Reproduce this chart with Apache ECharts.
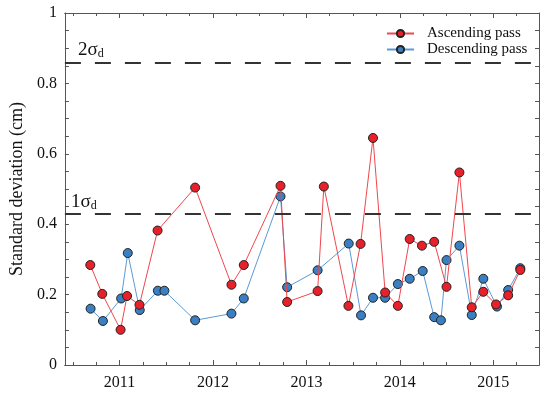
<!DOCTYPE html>
<html>
<head>
<meta charset="utf-8">
<script src="https://cdn.jsdelivr.net/npm/echarts@6/dist/echarts.min.js"></script>
<style>html,body{margin:0;padding:0;background:#fff}#c{width:550px;height:394px}</style>
</head>
<body>
<div id="c"></div>
<script>
// Ascending pass
var ascDates = [2010.687, 2010.815, 2011.011, 2011.08, 2011.213, 2011.407, 2011.809, 2012.198, 2012.33, 2012.723, 2012.794,
  2013.12, 2013.187, 2013.45, 2013.58, 2013.713, 2013.843, 2013.979, 2014.106, 2014.237, 2014.368, 2014.5, 2014.638, 2014.77,
  2014.894, 2015.03, 2015.16, 2015.29];
var ascValues = [0.284, 0.202, 0.100, 0.196, 0.171, 0.382, 0.504, 0.228, 0.284, 0.509, 0.179,
  0.210, 0.507, 0.168, 0.344, 0.645, 0.206, 0.168, 0.358, 0.339, 0.350, 0.222, 0.547, 0.164,
  0.208, 0.172, 0.198, 0.270];
// Descending pass
var descDates = [2010.69, 2010.822, 2011.017, 2011.088, 2011.216, 2011.41, 2011.48, 2011.809, 2012.198, 2012.33, 2012.723, 2012.794,
  2013.12, 2013.453, 2013.585, 2013.713, 2013.843, 2013.979, 2014.106, 2014.245, 2014.368, 2014.44, 2014.5, 2014.638, 2014.77,
  2014.894, 2015.04, 2015.16, 2015.29];
var descValues = [0.160, 0.125, 0.189, 0.318, 0.156, 0.211, 0.211, 0.127, 0.146, 0.189, 0.479, 0.221,
  0.269, 0.345, 0.141, 0.191, 0.191, 0.230, 0.245, 0.267, 0.136, 0.127, 0.298, 0.339, 0.142,
  0.245, 0.166, 0.213, 0.275];
// Reference levels
var sigma1 = 0.43, sigma2 = 0.86;
var yearLabels = [2011, 2012, 2013, 2014, 2015];
var quarterTicks = [];
for (var q = 2010.5; q <= 2015.26; q += 0.25) quarterTicks.push(+q.toFixed(2));

function pairs(xs, ys) { return xs.map(function (x, i) { return [x, ys[i]]; }); }

var FONT = "'Liberation Serif', 'Times New Roman', serif";
var AX = '#555';
var XMIN = 2010.415, XMAX = 2015.49;

var chart = echarts.init(document.getElementById('c'), null, {renderer: 'canvas'});
function xAx(pos, showLabels, ticks, len) {
  return {
    type: 'value', position: pos, min: XMIN, max: XMAX,
    axisLine: {show: true, onZero: false, lineStyle: {color: AX, width: 1}},
    axisTick: {show: true, inside: true, length: len, customValues: ticks, lineStyle: {color: AX}},
    axisLabel: showLabels ? {show: true, customValues: yearLabels, color: '#111', fontFamily: FONT, fontSize: 16, margin: 10,
      formatter: function (v) { return String(Math.round(v)); }} : {show: false},
    splitLine: {show: false}
  };
}
var option = {
  animation: false,
  backgroundColor: '#fff',
  grid: {left: 62, right: 11, top: 13, bottom: 29},
  legend: {
    orient: 'vertical', left: 381, top: 21, itemWidth: 27, itemHeight: 9, itemGap: 1,
    data: ['Ascending pass', 'Descending pass'],
    textStyle: {fontFamily: FONT, fontSize: 15, color: '#111', padding: [0, 0, 0, 8]}
  },
  xAxis: [
    xAx('bottom', true, quarterTicks, 3),
    xAx('bottom', false, yearLabels, 5),
    xAx('top', false, quarterTicks, 3),
    xAx('top', false, yearLabels, 5)
  ],
  yAxis: [{
    type: 'value', min: 0, max: 1, interval: 0.05, position: 'left',
    name: 'Standard deviation (cm)', nameLocation: 'middle', nameGap: 34,
    nameTextStyle: {fontFamily: FONT, fontSize: 18, color: '#111'},
    axisLine: {show: true, lineStyle: {color: AX}},
    axisTick: {show: true, inside: true, length: 4, lineStyle: {color: AX}},
    axisLabel: {color: '#111', fontFamily: FONT, fontSize: 16, margin: 8,
      formatter: function (v) { var k = v * 5; return Math.abs(k - Math.round(k)) < 1e-6 ? String(+v.toFixed(1)) : ''; }},
    splitLine: {show: false}
  }, {
    type: 'value', min: 0, max: 1, interval: 0.05, position: 'right',
    axisLine: {show: true, lineStyle: {color: AX}},
    axisTick: {show: true, inside: true, length: 4, lineStyle: {color: AX}},
    axisLabel: {show: false}, splitLine: {show: false}
  }],
  series: [{
    name: 'Descending pass', type: 'line', data: pairs(descDates, descValues),
    symbol: 'circle', symbolSize: 9,
    itemStyle: {color: '#3a7fc2', borderColor: '#222', borderWidth: 1},
    lineStyle: {color: '#5b9bd5', width: 1}, z: 3,
    markLine: {
      silent: true, symbol: 'none',
      lineStyle: {color: '#333', type: [16, 14], width: 1.8},
      label: {show: true, position: 'insideStartTop', fontFamily: FONT, color: '#111',
        rich: {a: {fontSize: 19, fontFamily: FONT, color: '#111'}, b: {fontSize: 12, fontFamily: FONT, color: '#111', verticalAlign: 'bottom', padding: [8, 0, 0, 0]}}},
      data: [
        {yAxis: sigma2, label: {formatter: '{a|2σ}{b|d}', distance: [13, 2]}},
        {yAxis: sigma1, label: {formatter: '{a|1σ}{b|d}', distance: [6, 2]}}
      ]
    }
  }, {
    name: 'Ascending pass', type: 'line', data: pairs(ascDates, ascValues),
    symbol: 'circle', symbolSize: 9,
    itemStyle: {color: '#e8202a', borderColor: '#222', borderWidth: 1},
    lineStyle: {color: '#f0474e', width: 1}, z: 4
  }]
};
chart.setOption(option);
</script>
</body>
</html>
